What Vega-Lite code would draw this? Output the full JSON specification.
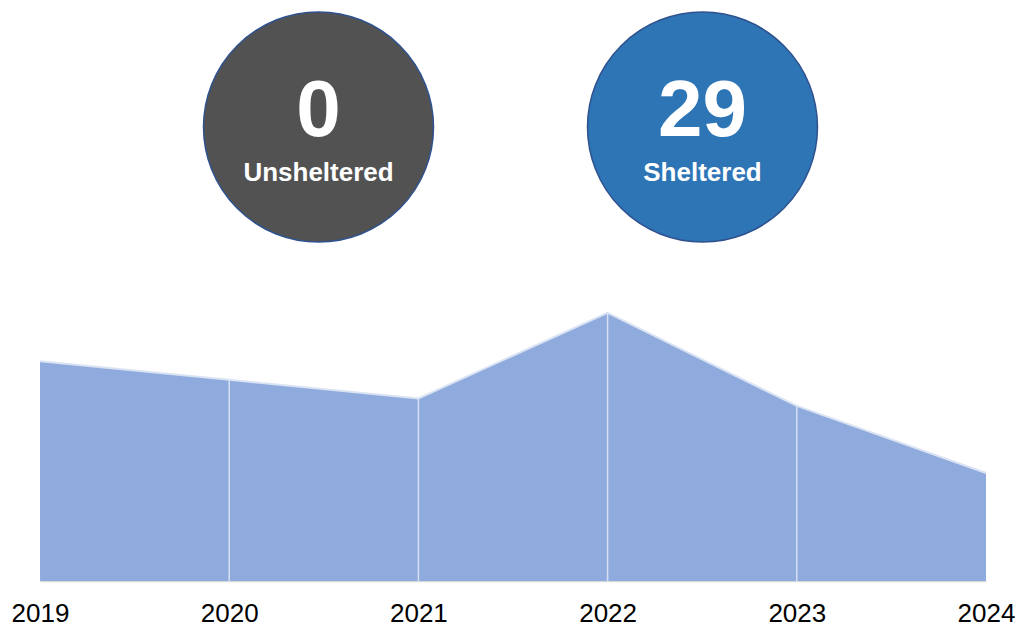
{
  "$schema": "https://vega.github.io/schema/vega-lite/v6.json",
  "background": "white",
  "padding": {"left": 11, "top": 0, "right": 0, "bottom": 0},
  "spacing": 29,
  "config": {"view": {"stroke": null}, "font": "Liberation Sans"},
  "datasets": {
    "counts": [
      {"label": "Unsheltered", "value": 0},
      {"label": "Sheltered", "value": 29}
    ],
    "trend": [
      {"year": 2019, "count": 59},
      {"year": 2020, "count": 54},
      {"year": 2021, "count": 49},
      {"year": 2022, "count": 72},
      {"year": 2023, "count": 47},
      {"year": 2024, "count": 29}
    ]
  },
  "vconcat": [
    {
      "width": 941,
      "height": 254,
      "data": {"name": "counts"},
      "encoding": {
        "x": {"field": "label", "type": "nominal", "sort": null, "axis": null,
              "scale": {"type": "point", "padding": 0.7253}}
      },
      "layer": [
        {
          "mark": {"type": "point", "shape": "circle", "filled": true, "opacity": 1, "size": 52900, "stroke": "#2F528F", "strokeWidth": 1.5},
          "encoding": {
            "color": {"field": "label", "type": "nominal", "legend": null,
                      "scale": {"domain": ["Unsheltered", "Sheltered"], "range": ["#525252", "#2E75B6"]}}
          }
        },
        {
          "mark": {"type": "text", "fontSize": 80, "fontWeight": "bold", "color": "white", "baseline": "middle", "dy": -15},
          "encoding": {"text": {"field": "value", "type": "quantitative"}}
        },
        {
          "mark": {"type": "text", "fontSize": 26, "fontWeight": "bold", "color": "white", "baseline": "middle", "dy": 46},
          "encoding": {"text": {"field": "label", "type": "nominal"}}
        }
      ]
    },
    {
      "width": 946,
      "height": 298,
      "data": {"name": "trend"},
      "encoding": {
        "x": {"field": "year", "type": "quantitative",
              "scale": {"domain": [2019, 2024], "nice": false, "zero": false},
              "axis": {"values": [2019, 2020, 2021, 2022, 2023, 2024], "format": "d", "title": null,
                       "grid": false, "ticks": false, "domainColor": "#D9D9D9", "domainWidth": 1.5,
                       "labelFlush": false, "labelOverlap": false,
                       "labelFontSize": 26, "labelColor": "#000000", "labelPadding": 19, "labelFont": "Liberation Sans"}},
        "y": {"field": "count", "type": "quantitative", "axis": null, "scale": {"domain": [0, 80], "nice": false}}
      },
      "layer": [
        {
          "mark": {"type": "area", "color": "#8FAADC", "opacity": 1}
        },
        {
          "transform": [{"filter": "datum.year > 2019 && datum.year < 2024"}],
          "mark": {"type": "rule", "color": "#D6E0F2", "strokeWidth": 1.5},
          "encoding": {"y2": {"datum": 0}}
        },
        {
          "mark": {"type": "line", "color": "#DAE3F3", "strokeWidth": 2}
        }
      ]
    }
  ]
}
